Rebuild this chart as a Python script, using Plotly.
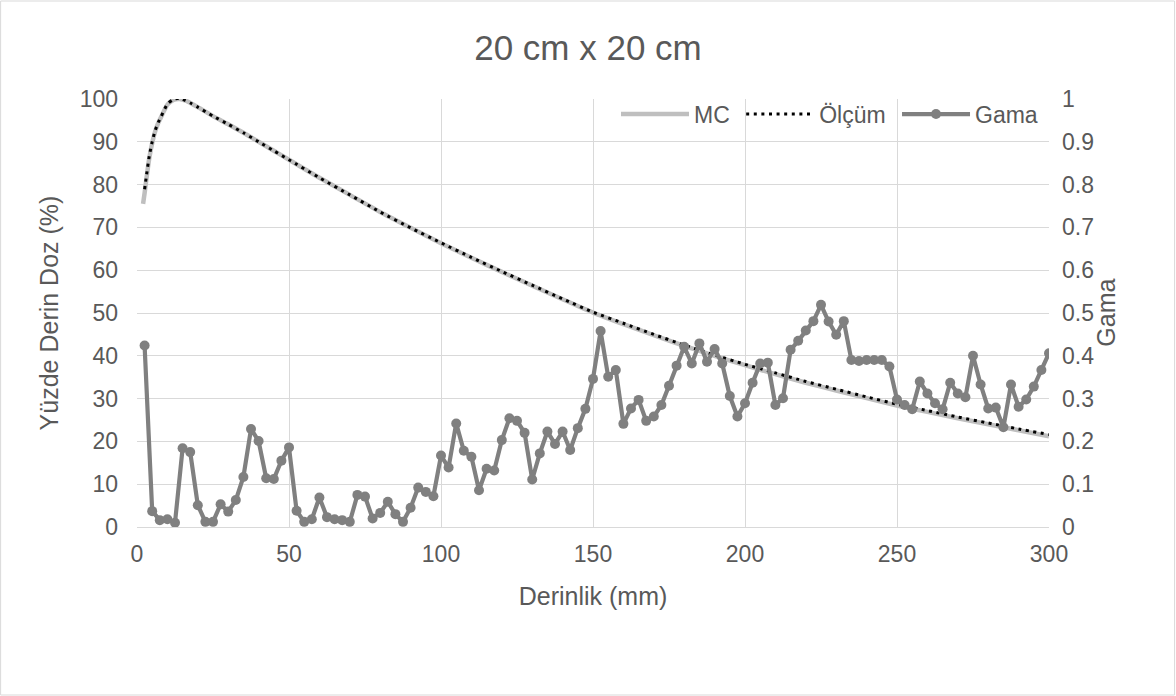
import plotly.graph_objects as go

# Depth-dose curves (percent depth dose vs depth in mm)
pdd_depth_mc = [2, 2.5, 3, 4, 5, 6, 7, 8, 10, 12, 14, 16, 18, 20, 25, 30, 35, 40, 45, 50,
                60, 70, 80, 90, 100, 110, 120, 130, 140, 150, 160, 170, 180, 190, 200,
                210, 220, 230, 240, 250, 260, 270, 280, 290, 300]
pdd_mc = [75.5, 78.0, 80.8, 86.0, 89.7, 92.5, 94.4, 95.9, 98.7, 99.8, 100.0, 99.6, 98.9, 98.1,
          96.0, 94.1, 92.1, 90.0, 87.9, 85.8, 81.6, 77.6, 73.6, 69.9, 66.3, 62.9, 59.6, 56.4,
          53.2, 50.1, 47.4, 44.8, 42.3, 40.0, 37.8, 35.7, 33.7, 31.9, 30.1, 28.4, 26.9, 25.4,
          24.0, 22.6, 21.2]

pdd_depth_meas = [2.5, 3, 4, 5, 6, 7, 8, 10, 12, 14, 16, 18, 20, 25, 30, 35, 40, 45, 50,
                  60, 70, 80, 90, 100, 110, 120, 130, 140, 150, 160, 170, 180, 190, 200,
                  210, 220, 230, 240, 250, 260, 270, 280, 290, 300]
pdd_meas = [78.9, 81.5, 86.5, 90.0, 92.7, 94.5, 96.0, 98.8, 99.9, 100.2, 99.6, 98.9, 98.1,
            96.0, 94.1, 92.1, 90.0, 87.9, 85.8, 81.6, 77.6, 73.6, 69.9, 66.4, 63.0, 59.7,
            56.5, 53.3, 50.2, 47.6, 45.0, 42.5, 40.2, 38.0, 36.0, 34.0, 32.2, 30.4, 28.7,
            27.2, 25.7, 24.3, 22.9, 21.6]

# Gamma index, sampled every 2.5 mm
gamma_depth = [2.5, 5, 7.5, 10, 12.5, 15, 17.5, 20, 22.5, 25, 27.5, 30, 32.5, 35, 37.5, 40,
               42.5, 45, 47.5, 50, 52.5, 55, 57.5, 60, 62.5, 65, 67.5, 70, 72.5, 75, 77.5, 80,
               82.5, 85, 87.5, 90, 92.5, 95, 97.5, 100, 102.5, 105, 107.5, 110, 112.5, 115,
               117.5, 120, 122.5, 125, 127.5, 130, 132.5, 135, 137.5, 140, 142.5, 145, 147.5,
               150, 152.5, 155, 157.5, 160, 162.5, 165, 167.5, 170, 172.5, 175, 177.5, 180,
               182.5, 185, 187.5, 190, 192.5, 195, 197.5, 200, 202.5, 205, 207.5, 210, 212.5,
               215, 217.5, 220, 222.5, 225, 227.5, 230, 232.5, 235, 237.5, 240, 242.5, 245,
               247.5, 250, 252.5, 255, 257.5, 260, 262.5, 265, 267.5, 270, 272.5, 275, 277.5,
               280, 282.5, 285, 287.5, 290, 292.5, 295, 297.5, 300]
gamma = [0.424, 0.037, 0.016, 0.018, 0.010, 0.184, 0.175, 0.051, 0.012, 0.012,
         0.053, 0.036, 0.063, 0.117, 0.229, 0.201, 0.114, 0.112, 0.155, 0.186,
         0.038, 0.012, 0.018, 0.069, 0.023, 0.018, 0.016, 0.012, 0.075, 0.071,
         0.020, 0.033, 0.059, 0.030, 0.012, 0.045, 0.092, 0.082, 0.072, 0.167,
         0.139, 0.242, 0.178, 0.164, 0.086, 0.136, 0.132, 0.203, 0.254, 0.248,
         0.220, 0.111, 0.172, 0.223, 0.194, 0.223, 0.180, 0.231, 0.276, 0.346,
         0.458, 0.351, 0.367, 0.241, 0.277, 0.297, 0.248, 0.258, 0.285, 0.330,
         0.377, 0.421, 0.382, 0.429, 0.386, 0.416, 0.382, 0.306, 0.258, 0.289,
         0.337, 0.382, 0.384, 0.285, 0.301, 0.414, 0.435, 0.459, 0.481, 0.519,
         0.480, 0.449, 0.481, 0.390, 0.388, 0.390, 0.390, 0.390, 0.375, 0.298,
         0.285, 0.275, 0.340, 0.312, 0.289, 0.275, 0.337, 0.312, 0.303, 0.400,
         0.333, 0.277, 0.279, 0.233, 0.333, 0.281, 0.298, 0.328, 0.367, 0.406]

x_ticks = [0, 50, 100, 150, 200, 250, 300]
y_ticks = [0, 10, 20, 30, 40, 50, 60, 70, 80, 90, 100]
y2_ticks = [0, 0.1, 0.2, 0.3, 0.4, 0.5, 0.6, 0.7, 0.8, 0.9, 1]
y2_labels = ["0", "0.1", "0.2", "0.3", "0.4", "0.5", "0.6", "0.7", "0.8", "0.9", "1"]

FONT = "Liberation Sans, Arial, sans-serif"
TXT = "#595959"
GRID = "#D9D9D9"
TICK_SIZE = 23
TITLE_SIZE = 25
NBSP = "\u00a0"
PLOT_W = 912.8  # plot-area width in px

fig = go.Figure()

fig.add_trace(go.Scatter(
    x=pdd_depth_mc, y=pdd_mc, name="MC" + NBSP, mode="lines",
    line=dict(color="#BFBFBF", width=4.5, shape="spline", smoothing=0.6),
))
fig.add_trace(go.Scatter(
    x=pdd_depth_meas, y=pdd_meas, name="Ölçüm" + NBSP, mode="lines",
    line=dict(color="#000000", width=3, dash="3px,4.6px", shape="spline", smoothing=0.6),
))
fig.add_trace(go.Scatter(
    x=gamma_depth, y=gamma, name="Gama", mode="lines+markers", yaxis="y2",
    line=dict(color="#808080", width=4.2),
    marker=dict(color="#808080", size=10, symbol="circle"),
))

fig.update_layout(
    width=1176, height=696,
    paper_bgcolor="white", plot_bgcolor="white",
    margin=dict(l=136.5, r=126.7, t=99, b=169),
    font=dict(family=FONT, color=TXT, size=TICK_SIZE),
    title=dict(text="20 cm x 20 cm", x=0.5, xanchor="center", y=0.932, yanchor="middle",
               font=dict(family=FONT, size=35, color=TXT)),
    xaxis=dict(
        range=[0, 300], tickvals=x_ticks, showgrid=True, gridcolor=GRID, gridwidth=1,
        zeroline=False, showline=True, linecolor=GRID, linewidth=1, ticks="",
        tickfont=dict(size=TICK_SIZE, color=TXT), ticklabelstandoff=6,
        title=dict(text="Derinlik (mm)", font=dict(size=TITLE_SIZE, color=TXT), standoff=21),
    ),
    yaxis=dict(
        range=[0, 100], tickvals=y_ticks, showgrid=True, gridcolor=GRID, gridwidth=1,
        zeroline=False, showline=False, ticks="",
        tickfont=dict(size=TICK_SIZE, color=TXT), ticklabelstandoff=18,
        title=dict(text="Yüzde Derin Doz (%)", font=dict(size=TITLE_SIZE, color=TXT), standoff=13),
    ),
    yaxis2=dict(
        range=[0, 1], tickvals=y2_ticks, ticktext=y2_labels, overlaying="y", side="right",
        showgrid=False, zeroline=False, showline=False, ticks="",
        tickfont=dict(size=TICK_SIZE, color=TXT), ticklabelstandoff=12,
    ),
    annotations=[dict(text="Gama", textangle=-90, xref="paper", yref="paper",
                      x=1 + (1106 - 1049.3) / PLOT_W, y=0.5, xanchor="center", yanchor="middle",
                      showarrow=False, font=dict(size=TITLE_SIZE, color=TXT))],
    legend=dict(
        orientation="h", x=1 - 6 / PLOT_W, xanchor="right", y=1.015, yanchor="top",
        bgcolor="rgba(0,0,0,0)", font=dict(size=TICK_SIZE, color=TXT),
        itemwidth=68, traceorder="normal",
    ),
    shapes=[dict(type="rect", xref="paper", yref="paper", x0=-136.5 / PLOT_W, x1=1 + 125.7 / PLOT_W,
                 y0=-168 / 428, y1=1 + 98 / 428, line=dict(color=GRID, width=1))],
)

fig.write_html("out.html")
